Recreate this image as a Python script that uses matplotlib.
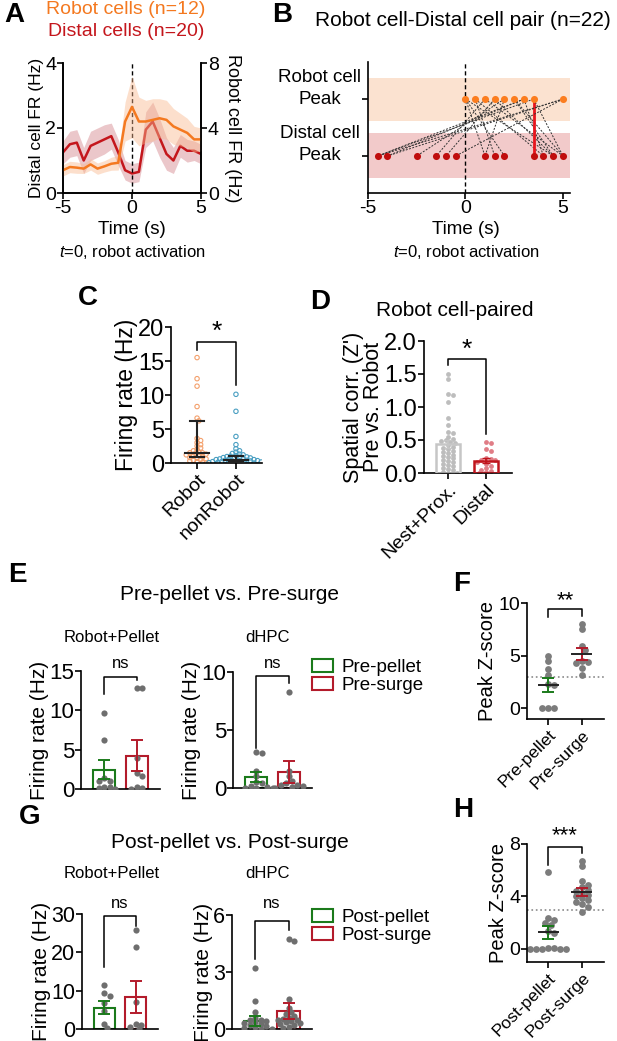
import numpy as np
import matplotlib
matplotlib.use('Agg')
import matplotlib.pyplot as plt
from matplotlib.patches import Patch

plt.rcParams['font.family'] = ['Liberation Sans', 'DejaVu Sans']
plt.rcParams['mathtext.fontset'] = 'custom'
plt.rcParams['mathtext.it'] = 'Liberation Sans:italic'
plt.rcParams['mathtext.rm'] = 'Liberation Sans'
plt.rcParams['axes.unicode_minus'] = False
plt.rcParams['axes.linewidth'] = 1.2
plt.rcParams['xtick.major.width'] = 1.2
plt.rcParams['ytick.major.width'] = 1.2
plt.rcParams['xtick.major.size'] = 4
plt.rcParams['ytick.major.size'] = 4

# ---- data ----
# A: peri-event firing rates
t_bins = [-5, -4.5, -4, -3.5, -3, -2.5, -2, -1.5, -1, -0.5, 0,
          0.5, 1, 1.5, 2, 2.5, 3, 3.5, 4, 4.5, 5]
robot_fr = [1.4, 1.6, 1.56, 1.5, 1.76, 1.5, 1.64, 1.8, 1.86, 4.4, 5.3,
            4.4, 4.4, 4.5, 4.6, 4.5, 4.1, 3.9, 3.7, 3.3, 3.3]
robot_sem = [0.35, 0.35, 0.35, 0.3, 0.35, 0.35, 0.35, 0.4, 0.45, 1.2, 1.9,
             1.5, 1.3, 1.3, 1.2, 1.2, 1.1, 1.0, 0.9, 0.8, 0.7]
distal_fr = [1.25, 1.5, 1.55, 1.0, 1.45, 1.55, 1.65, 1.75, 1.25, 0.7, 0.6,
             0.65, 1.95, 2.2, 1.7, 1.2, 1.0, 1.45, 1.3, 1.3, 1.2]
distal_sem = [0.35, 0.4, 0.4, 0.4, 0.45, 0.45, 0.45, 0.4, 0.4, 0.3, 0.3,
              0.3, 0.55, 0.6, 0.6, 0.5, 0.4, 0.35, 0.35, 0.3, 0.3]

# B: peak times of cell pairs
robot_peaks = [0, 0.5, 1, 1.5, 2, 2.5, 3, 3.5, 5]
distal_peaks = [-4.5, -4, -2.5, -1.5, -1, -0.5, 1, 1.5, 2, 3.5, 4, 4.5, 5]
pair_robot = [0, 0, 0, 0.5, 0.5, 1, 1, 1.5, 1.5, 2, 2, 2.5, 2.5, 3, 3, 3, 3.5, 3.5, 3.5, 5, 5, 5]
pair_distal = [1, 2, 4.5, 1.5, 4, -1.5, 5, -1, 4.5, -2.5, 1, 4.5, 5, -4.5, -4, 4, -4.5, 3.5, 5, -4, -4.5, -0.5]

# C: firing rates
c_robot = [15.5, 12.4, 11.3, 8.3, 6.6, 6.2, 3.6, 3.3, 3.0, 2.7, 2.5, 2.2, 2.0, 1.8, 1.6,
           1.5, 1.5, 1.4, 1.3, 1.2, 1.1, 1.0, 0.9, 0.8, 0.7, 0.6, 0.5, 0.4, 0.3, 0.2, 0.1, 0.0]
c_nonrobot = [10.1, 7.6, 3.9, 2.7, 2.1, 1.8, 1.6, 1.4, 1.3, 1.2, 1.1, 1.0, 0.95, 0.9, 0.85,
              0.8, 0.75, 0.7, 0.65, 0.6, 0.55, 0.5, 0.5, 0.45, 0.4, 0.4, 0.35, 0.3, 0.3,
              0.25, 0.2, 0.2, 0.15, 0.1, 0.1, 0.05, 0.05, 0.0, 0.0, 0.0]
c_stats = {'Robot': (0.9, 1.5, 6.2), 'nonRobot': (0.15, 0.5, 1.05)}

# D: spatial correlation
d_nest = [1.5, 1.43, 1.2, 1.18, 1.07, 0.84, 0.73, 0.62, 0.6, 0.55, 0.52, 0.5, 0.48, 0.47,
          0.45, 0.42, 0.4, 0.38, 0.36, 0.34, 0.32, 0.3, 0.28, 0.26, 0.24, 0.22, 0.2, 0.18,
          0.16, 0.14, 0.12, 0.1, 0.08, 0.06, 0.04, 0.02, 0.0, 0.0]
d_distal = [0.47, 0.46, 0.37, 0.33, 0.22, 0.21, 0.2, 0.19, 0.17, 0.14, 0.1, 0.07, 0.05, 0.03, 0.01, 0.0]
d_sem = [0.06, 0.04]

# E: pre-pellet vs pre-surge
e1_green = [9.7, 6.2, 1.4, 1.0, 1.0, 0.3, 0.2, 0.1, 0.0]
e1_red = [12.9, 12.9, 4.0, 2.0, 1.7, 0.3, 0.1, 0.0]
e1_mean, e1_sem = [2.45, 4.25], [1.2, 2.0]
e2_green = [3.1, 3.0, 1.5, 1.0, 0.5, 0.4, 0.2, 0.1, 0.0, 0.0, 0.0]
e2_red = [8.3, 1.5, 1.0, 0.6, 0.4, 0.3, 0.3, 0.2, 0.1, 0.0]
e2_mean, e2_sem = [0.95, 1.35], [0.45, 0.95]

# G: post-pellet vs post-surge
g1_green = [11.5, 9.5, 8.6, 6.8, 4.7, 1.2, 0.2]
g1_red = [25.7, 21.3, 7.0, 1.2, 1.0, 0.4, 0.0]
g1_mean, g1_sem = [5.6, 8.3], [1.75, 4.2]
g2_green = [3.2, 1.5, 0.9, 0.6, 0.5, 0.45, 0.4, 0.35, 0.3, 0.25, 0.2, 0.15, 0.1, 0.05, 0.0, 0.0]
g2_red = [4.75, 4.65, 1.6, 1.1, 0.9, 0.8, 0.7, 0.6, 0.55, 0.5, 0.45, 0.4, 0.35, 0.3, 0.25,
          0.2, 0.1, 0.05]
g2_mean, g2_sem = [0.43, 0.94], [0.26, 0.43]

# F / H: peak z-scores
f_pre_pellet = [5.0, 4.5, 3.7, 3.2, 2.3, 2.2, 0.05, 0.0, 0.0]
f_pre_surge = [8.05, 7.5, 5.95, 5.5, 4.5, 4.4, 4.3, 3.8, 3.2]
f_mean, f_sem = [2.25, 5.2], [0.65, 0.58]
h_post_pellet = [5.9, 2.35, 2.2, 2.0, 1.8, 1.4, 1.2, 0.1, 0.05, 0.0, 0.0, 0.0, 0.0, 0.0]
h_post_surge = [6.7, 6.3, 5.2, 4.9, 4.7, 4.5, 4.4, 4.3, 4.1, 4.0, 3.9, 3.7, 3.6, 3.4, 3.2, 2.8]
h_mean, h_sem = [1.25, 4.35], [0.48, 0.33]

ORANGE = '#f47920'
DRED = '#c4161c'
GREEN = '#1b7a1b'
BRED = '#b31b2b'
DOT = '#6e6e6e'

W, H = 617, 1041
fig = plt.figure(figsize=(W / 100, H / 100), dpi=100)


def add_ax(l, t, r, b):
    return fig.add_axes([l / W, 1 - b / H, (r - l) / W, (b - t) / H])


def ftext(x, y, s, **kw):
    fig.text(x / W, 1 - y / H, s, **kw)


def swarm(ax, x0, vals, d):
    # simple beeswarm in pixel space
    tr = ax.transData
    cx = tr.transform((x0, 0))[0]
    ys = tr.transform(np.column_stack([np.full(len(vals), x0), vals]))[:, 1]
    placed, xs = [], []
    for y in ys:
        for k in range(80):
            off = ((k + 1) // 2) * d * 0.5 * (1 if k % 2 else -1)
            if all((cx + off - px) ** 2 + (y - py) ** 2 >= (0.85 * d) ** 2 for px, py in placed):
                break
        placed.append((cx + off, y))
        xs.append(tr.inverted().transform((cx + off, y))[0])
    return np.array(xs)


def bracket(ax, ytop, yl, yr, txt, ty, fs=12):
    ax.plot([0, 0, 1, 1], [yl, ytop, ytop, yr], color='k', lw=1.1, clip_on=False)
    ax.text(0.5, ty, txt, ha='center', va='center', fontsize=fs, clip_on=False)


def clean(ax):
    ax.spines['top'].set_visible(False)
    ax.spines['right'].set_visible(False)


# ---------------- A ----------------
ax_a = add_ax(63, 63, 201, 193)
ax_a2 = ax_a.twinx()
ax_a.set_xlim(-5, 5)
ax_a.set_ylim(0, 4)
ax_a2.set_ylim(0, 8)
dfr, dse = np.array(distal_fr), np.array(distal_sem)
rfr, rse = np.array(robot_fr), np.array(robot_sem)
ax_a.fill_between(t_bins, dfr - dse, dfr + dse, color='#d4838a', alpha=0.45, lw=0)
ax_a.plot(t_bins, dfr, color=DRED, lw=1.8)
ax_a2.fill_between(t_bins, rfr - rse, rfr + rse, color='#f9b98f', alpha=0.45, lw=0)
ax_a2.plot(t_bins, rfr, color=ORANGE, lw=1.8)
ax_a.axvline(0, color='k', ls='--', lw=1, dashes=(3, 2))
ax_a.set_yticks([0, 2, 4])
ax_a2.set_yticks([0, 4, 8])
ax_a.set_xticks([-5, 0, 5])
for a in (ax_a, ax_a2):
    a.spines['top'].set_visible(False)
    a.tick_params(labelsize=14, pad=1)
ax_a.set_ylabel('Distal cell FR (Hz)', fontsize=12.5, labelpad=1)
ax_a2.set_ylabel('Robot cell FR (Hz)', fontsize=13, rotation=270, labelpad=16)
ftext(126, 10, 'Robot cells (n=12)', color=ORANGE, fontsize=14, ha='center', va='center')
ftext(126, 32, 'Distal cells (n=20)', color=DRED, fontsize=14, ha='center', va='center')
ftext(132, 229, 'Time (s)', fontsize=13.5, ha='center', va='center')
ftext(132, 252, '$t$=0, robot activation', fontsize=12, ha='center', va='center')

# ---------------- B ----------------
ax_b = add_ax(368, 62, 570, 193)
clean(ax_b)
ax_b.set_xlim(-5, 5.36)
ax_b.set_ylim(0.35, 2.65)
ax_b.axhspan(1.61, 2.37, color='#fbe2d0', lw=0, zorder=0)
ax_b.axhspan(0.61, 1.40, color='#f2caca', lw=0, zorder=0)
ax_b.axvline(0, color='k', ls='--', lw=1, dashes=(3, 2), zorder=1)
for r, d in zip(pair_robot, pair_distal):
    if r == d:
        ax_b.plot([r, d], [2, 1], color='#e8141c', lw=2, zorder=2)
    else:
        ax_b.plot([r, d], [2, 1], color='#333333', lw=0.7, ls=(0, (2, 1.5)), zorder=2)
ax_b.scatter(robot_peaks, [2] * len(robot_peaks), s=26, color='#fb7d1f', zorder=3, lw=0)
ax_b.scatter(distal_peaks, [1] * len(distal_peaks), s=26, color='#c00d0d', zorder=3, lw=0)
ax_b.set_xticks([-5, 0, 5])
ax_b.set_yticks([1, 2])
ax_b.set_yticklabels(['', ''])
ax_b.tick_params(labelsize=14, pad=1)
ftext(320, 77, 'Robot cell', fontsize=13.5, ha='center', va='center')
ftext(320, 99, 'Peak', fontsize=13.5, ha='center', va='center')
ftext(320, 133, 'Distal cell', fontsize=13.5, ha='center', va='center')
ftext(320, 156, 'Peak', fontsize=13.5, ha='center', va='center')
ftext(463, 20, 'Robot cell-Distal cell pair (n=22)', fontsize=15, ha='center', va='center')
ftext(466, 229, 'Time (s)', fontsize=13.5, ha='center', va='center')
ftext(466, 252, '$t$=0, robot activation', fontsize=12, ha='center', va='center')

# ---------------- C ----------------
ax_c = add_ax(171, 327, 262, 463)
clean(ax_c)
ax_c.set_xlim(-0.67, 1.67)
ax_c.set_ylim(0, 20)
ax_c.set_yticks([0, 5, 10, 15, 20])
ax_c.set_xticks([0, 1])
ax_c.set_xticklabels(['Robot', 'nonRobot'], rotation=45, ha='right', rotation_mode='anchor')
ax_c.tick_params(axis='y', labelsize=17, pad=1)
ax_c.tick_params(axis='x', labelsize=14, pad=2)
ax_c.set_ylabel('Firing rate (Hz)', fontsize=16.5, labelpad=0)
for i, (vals, col) in enumerate([(c_robot, '#f4a06c'), (c_nonrobot, '#4a9fc2')]):
    xs = swarm(ax_c, i, vals, 3.6)
    ax_c.scatter(xs, vals, s=10, facecolors='none', edgecolors=col, lw=0.8, zorder=2)
for i, key in enumerate(['Robot', 'nonRobot']):
    q1, med, q3 = c_stats[key]
    ax_c.plot([i, i], [q1, q3], color='#222222', lw=1.5, zorder=3)
    ax_c.plot([i - 0.3, i + 0.3], [med, med], color='#222222', lw=1.5, zorder=3)
    for q in (q1, q3):
        ax_c.plot([i - 0.17, i + 0.17], [q, q], color='#222222', lw=1.5, zorder=3)
bracket(ax_c, 17.8, 16.6, 11.4, '*', 19.3, fs=19)

# ---------------- D ----------------
ax_d = add_ax(424, 341, 512, 473)
clean(ax_d)
ax_d.set_xlim(-0.63, 1.68)
ax_d.set_ylim(0, 2)
ax_d.set_yticks([0, 0.5, 1.0, 1.5, 2.0])
ax_d.set_yticklabels(['0.0', '0.5', '1.0', '1.5', '2.0'])
ax_d.set_xticks([0, 1])
ax_d.set_xticklabels(['Nest+Prox.', 'Distal'], rotation=45, ha='right', rotation_mode='anchor')
ax_d.tick_params(axis='y', labelsize=17, pad=1)
ax_d.tick_params(axis='x', labelsize=14, pad=2)
ax_d.set_ylabel("Spatial corr. (Z')\nPre vs. Robot", fontsize=15.5, labelpad=0, linespacing=0.95)
for i, (vals, dcol, ecol) in enumerate([(d_nest, '#bdbdbd', '#c6c6c6'), (d_distal, '#e07d86', '#c0141c')]):
    xs = swarm(ax_d, i, vals, 4.6)
    ax_d.scatter(xs, vals, s=12, color=dcol, lw=0, zorder=2)
    m = np.mean(vals)
    ax_d.bar(i, m, width=0.63, facecolor='none', edgecolor=ecol, lw=1.8, zorder=3)
    ax_d.errorbar(i, m, yerr=d_sem[i], color=ecol, capsize=3, lw=1.2, zorder=3)
bracket(ax_d, 1.72, 1.63, 0.59, '*', 1.87, fs=19)
ftext(455, 310, 'Robot cell-paired', fontsize=15, ha='center', va='center')


# ---------------- E / G bar panels ----------------
def bar_panel(ax, green, red, means, sems, ymax, yticks, brk, tfs=16):
    clean(ax)
    ax.set_xlim(-0.7, 1.7)
    ax.set_ylim(0, ymax)
    ax.set_yticks(yticks)
    ax.set_xticks([])
    ax.tick_params(axis='y', labelsize=tfs, pad=1)
    ax.set_ylabel('Firing rate (Hz)', fontsize=15, labelpad=0)
    for i, (vals, col) in enumerate([(green, GREEN), (red, BRED)]):
        ax.bar(i, means[i], width=0.67, facecolor='none', edgecolor=col, lw=1.5, zorder=2)
        xs = swarm(ax, i, vals, 5.5)
        ax.scatter(xs, vals, s=20, color=DOT, lw=0, zorder=3)
        ax.errorbar(i, means[i], yerr=sems[i], color=col, capsize=4, lw=1.4, capthick=1.4, zorder=4)
    ytop, yl, yr, ty = brk
    bracket(ax, ytop, yl, yr, 'ns', ty, fs=12)


ax_e1 = add_ax(81, 671, 160, 789)
bar_panel(ax_e1, e1_green, e1_red, e1_mean, e1_sem, 15, [0, 5, 10, 15], (14.3, 12.1, 13.8, 16.0))
ax_e2 = add_ax(233, 672, 312, 788)
bar_panel(ax_e2, e2_green, e2_red, e2_mean, e2_sem, 10, [0, 5, 10], (9.65, 3.45, 9.05, 10.75))
ftext(230, 595, 'Pre-pellet vs. Pre-surge', fontsize=15, ha='center', va='center')
ftext(112, 638, 'Robot+Pellet', fontsize=12, ha='center', va='center')
ftext(268, 638, 'dHPC', fontsize=12, ha='center', va='center')
fig.legend([Patch(facecolor='white', edgecolor=GREEN, lw=1.5), Patch(facecolor='white', edgecolor=BRED, lw=1.5)],
           ['Pre-pellet', 'Pre-surge'], loc='upper left', bbox_to_anchor=(312 / W, 1 - 659 / H),
           frameon=False, fontsize=13.5, handlelength=1.1, handleheight=0.7, handletextpad=0.5,
           labelspacing=0.05, borderpad=0, borderaxespad=0)

ax_g1 = add_ax(82, 914, 158, 1029)
bar_panel(ax_g1, g1_green, g1_red, g1_mean, g1_sem, 30, [0, 10, 20, 30], (29.4, 16.2, 27.0, 32.8), tfs=15.5)
ax_g2 = add_ax(232, 915, 312, 1029)
bar_panel(ax_g2, g2_green, g2_red, g2_mean, g2_sem, 6, [0, 3, 6], (5.7, 3.7, 5.2, 6.6), tfs=15.5)
ftext(230, 842, 'Post-pellet vs. Post-surge', fontsize=15, ha='center', va='center')
ftext(112, 874, 'Robot+Pellet', fontsize=12, ha='center', va='center')
ftext(268, 874, 'dHPC', fontsize=12, ha='center', va='center')
fig.legend([Patch(facecolor='white', edgecolor=GREEN, lw=1.5), Patch(facecolor='white', edgecolor=BRED, lw=1.5)],
           ['Post-pellet', 'Post-surge'], loc='upper left', bbox_to_anchor=(312 / W, 1 - 909 / H),
           frameon=False, fontsize=13.5, handlelength=1.1, handleheight=0.7, handletextpad=0.5,
           labelspacing=0.05, borderpad=0, borderaxespad=0)


# ---------------- F / H z-score panels ----------------
def z_panel(ax, a, b, means, sems, ymax, yticks, labels, brk, stars):
    clean(ax)
    ax.set_xlim(-0.62, 1.65)
    ax.set_ylim(-1, ymax)
    ax.set_yticks(yticks)
    ax.set_xticks([0, 1])
    ax.set_xticklabels(labels, rotation=45, ha='right', rotation_mode='anchor')
    ax.tick_params(axis='y', labelsize=14, pad=1)
    ax.tick_params(axis='x', labelsize=12.5, pad=2)
    ax.set_ylabel('Peak Z-score', fontsize=14.5, labelpad=1)
    ax.axhline(3, color='#8a8a8a', ls=':', lw=1.2, zorder=1)
    for i, (vals, col) in enumerate([(a, GREEN), (b, BRED)]):
        xs = swarm(ax, i, vals, 6.0)
        ax.scatter(xs, vals, s=24, color='#7c7c7c', lw=0, zorder=2)
        ax.errorbar(i, means[i], yerr=sems[i], color=col, capsize=4, lw=1.4, capthick=1.4, zorder=3)
        ax.plot([i - 0.28, i + 0.28], [means[i], means[i]], color='#222222', lw=1.4, zorder=4)
    ytop, yl, yr, ty = brk
    bracket(ax, ytop, yl, yr, stars, ty, fs=16)


ax_f = add_ax(527, 603, 604, 719)
z_panel(ax_f, f_pre_pellet, f_pre_surge, f_mean, f_sem, 10, [0, 5, 10],
        ['Pre-pellet', 'Pre-surge'], (9.45, 8.7, 8.8, 10.2), '**')
ax_h = add_ax(527, 844, 604, 962)
z_panel(ax_h, h_post_pellet, h_post_surge, h_mean, h_sem, 8, [0, 4, 8],
        ['Post-pellet', 'Post-surge'], (7.8, 6.4, 7.35, 8.6), '***')

# panel letters
for letter, x, y in [('A', 14, 15), ('B', 282, 15), ('C', 88, 298), ('D', 320, 302),
                     ('E', 17, 575), ('F', 462, 584), ('G', 30, 817), ('H', 463, 810)]:
    ftext(x, y, letter, fontsize=20, fontweight='bold', ha='center', va='center')

fig.savefig('out.png', dpi=100)
